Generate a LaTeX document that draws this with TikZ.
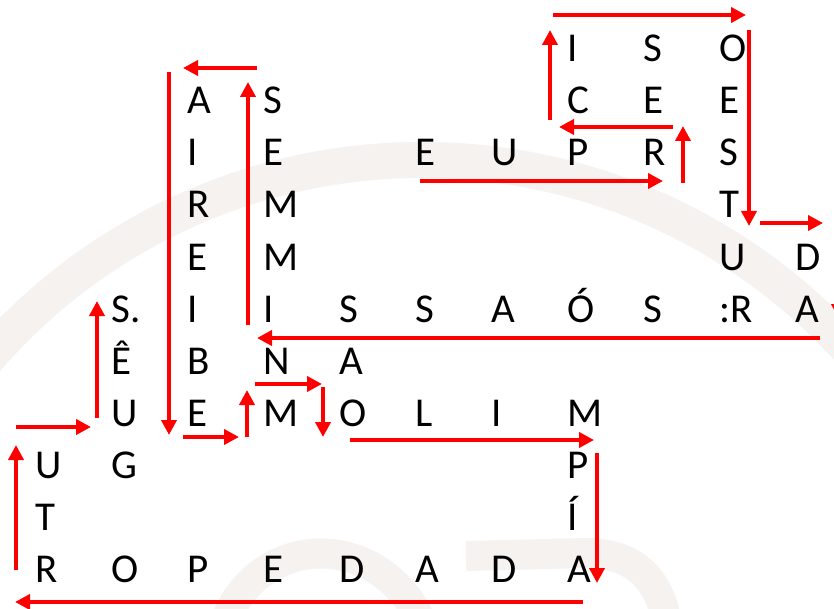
\documentclass[tikz,border=0pt]{standalone}
\usepackage{fontspec}
\setmainfont{Carlito}
\usetikzlibrary{arrows.meta}
\definecolor{wmgray}{RGB}{245,242,240}
\begin{document}
\begin{tikzpicture}[x=1pt,y=-1pt,
  ltr/.style={anchor=base west, inner sep=0pt, font=\fontsize{41}{49}\selectfont},
  arr/.style={draw=red, line width=3.8pt, -{Triangle[length=15pt,width=15pt]}},
  wm/.style={draw=wmgray, line width=36pt}]
\useasboundingbox (0,0) rectangle (834,609);
\clip (0,0) rectangle (834,609);
\fill[white] (0,0) rectangle (834,609);
% faint watermark
\draw[wm] (422,736) circle[radius=576];
\draw[wmgray, line width=30pt] (222,630) .. controls (255,528) and (385,528) .. (425,630);
\draw[wmgray, line width=30pt] (466,556) -- (585,553) .. controls (640,553) and (662,585) .. (668,630);
% letters
\newcommand\gl[3]{\node[ltr] (l-#1-#2) at ({35+76*#1},{62+52*(#2-1)}) {#3};}
\gl{7}{1}{I}\gl{8}{1}{S}\gl{9}{1}{O}
\gl{2}{2}{A}\gl{3}{2}{S}\gl{7}{2}{C}\gl{8}{2}{E}\gl{9}{2}{E}
\gl{2}{3}{I}\gl{3}{3}{E}\gl{5}{3}{E}\gl{6}{3}{U}\gl{7}{3}{P}\gl{8}{3}{R}\gl{9}{3}{S}
\gl{2}{4}{R}\gl{3}{4}{M}\gl{9}{4}{T}
\gl{2}{5}{E}\gl{3}{5}{M}\gl{9}{5}{U}\gl{10}{5}{D}
\gl{1}{6}{S.}\gl{2}{6}{I}\gl{3}{6}{I}\gl{4}{6}{S}\gl{5}{6}{S}\gl{6}{6}{A}\gl{7}{6}{Ó}\gl{8}{6}{S}\gl{9}{6}{:R}\gl{10}{6}{A}
\gl{1}{7}{Ê}\gl{2}{7}{B}\gl{3}{7}{N}\gl{4}{7}{A}
\gl{1}{8}{U}\gl{2}{8}{E}\gl{3}{8}{M}\gl{4}{8}{O}\gl{5}{8}{L}\gl{6}{8}{I}\gl{7}{8}{M}
\gl{0}{9}{U}\gl{1}{9}{G}\gl{7}{9}{P}
\gl{0}{10}{T}\gl{7}{10}{Í}
\gl{0}{11}{R}\gl{1}{11}{O}\gl{2}{11}{P}\gl{3}{11}{E}\gl{4}{11}{D}\gl{5}{11}{A}\gl{6}{11}{D}\gl{7}{11}{A}
% arrow end points
\coordinate (a1s) at (553,15);  \coordinate (a1e) at (746,15);
\coordinate (a2s) at (749,30);  \coordinate (a2e) at (749,226);
\coordinate (a3s) at (760,223); \coordinate (a3e) at (823,223);
\coordinate (a4s) at (839,262); \coordinate (a4e) at (839,319);
\coordinate (a5s) at (820,338); \coordinate (a5e) at (257,338);
\coordinate (a6s) at (248,325); \coordinate (a6e) at (248,82);
\coordinate (a7s) at (257,68);  \coordinate (a7e) at (183,68);
\coordinate (a8s) at (169,72);  \coordinate (a8e) at (169,435);
\coordinate (a9s) at (183,437); \coordinate (a9e) at (239,437);
\coordinate (a10s) at (247,437); \coordinate (a10e) at (247,390);
\coordinate (a11s) at (255,384); \coordinate (a11e) at (322,384);
\coordinate (a12s) at (323,387); \coordinate (a12e) at (323,437);
\coordinate (a13s) at (350,440); \coordinate (a13e) at (594,440);
\coordinate (a14s) at (597,453); \coordinate (a14e) at (597,583);
\coordinate (a15s) at (583,602); \coordinate (a15e) at (15,602);
\coordinate (a16s) at (16,570); \coordinate (a16e) at (16,445);
\coordinate (a17s) at (16,427); \coordinate (a17e) at (91,427);
\coordinate (a18s) at (97,418); \coordinate (a18e) at (97,301);
\coordinate (a19s) at (420,181); \coordinate (a19e) at (663,181);
\coordinate (a20s) at (683,183); \coordinate (a20e) at (683,126);
\coordinate (a21s) at (673,127); \coordinate (a21e) at (559,127);
\coordinate (a22s) at (550,120); \coordinate (a22e) at (550,30);
\foreach \i in {1,...,22}{\draw[arr] (a\i s) -- (a\i e);}
\end{tikzpicture}
\end{document}
